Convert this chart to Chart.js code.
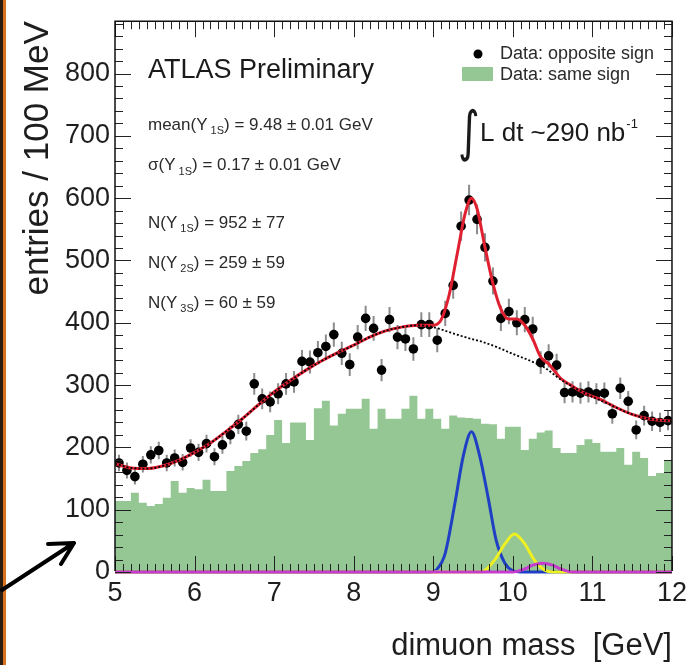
<!DOCTYPE html>
<html>
<head>
<meta charset="utf-8">
<script src="https://cdn.jsdelivr.net/npm/chart.js@4.4.1/dist/chart.umd.min.js"></script>
<style>
  html, body { margin: 0; padding: 0; background: #fff; }
  #wrap { position: relative; width: 692px; height: 665px; }
</style>
</head>
<body>
<div id="wrap"><canvas id="ups-chart" width="692" height="665"></canvas></div>
<script>
// dimuon mass spectrum in the Upsilon region

const massMin = 5;
const massMax = 12;
const binWidth = 0.1;

// entries / 100 MeV, bins from 5.0 to 12.0 GeV
const oppositeSign = [
  175, 163, 153, 173, 188, 195, 175, 183, 176, 199,
  192, 206, 185, 204, 220, 237, 226, 302, 278, 273,
  286, 302, 305, 338, 337, 352, 362, 381, 351, 333,
  377, 407, 391, 324, 405, 377, 374, 358, 397, 397,
  372, 415, 460, 555, 597, 566, 521, 467, 407, 418,
  400, 405, 390, 336, 347, 332, 288, 289, 287, 289,
  286, 287, 254, 295, 274, 228, 251, 242, 240, 243
];
const sameSign = [
  114, 114, 127, 111, 106, 109, 119, 146, 127, 135,
  133, 148, 130, 130, 162, 170, 178, 191, 197, 220,
  244, 207, 240, 240, 212, 263, 275, 235, 254, 262,
  262, 278, 230, 262, 246, 246, 262, 283, 246, 262,
  246, 230, 251, 248, 247, 246, 238, 237, 214, 233,
  233, 196, 214, 224, 227, 199, 191, 191, 204, 213,
  207, 193, 193, 199, 172, 193, 183, 154, 159, 179
];

// fitted curves, sampled off the plot
const fitMass = [5.0, 5.2, 5.4, 5.6, 5.8, 6.0, 6.2, 6.4, 6.6, 6.8, 7.0, 7.2, 7.4, 7.6, 7.8, 8.0, 8.2, 8.4, 8.6, 8.8,
  9.0, 9.1, 9.2, 9.3, 9.4, 9.48, 9.55, 9.65, 9.75, 9.85, 9.95, 10.05, 10.15, 10.25, 10.35, 10.45,
  10.6, 10.7, 10.9, 11.1, 11.3, 11.5, 11.7, 11.9, 12.0];
const fitTotal = [174, 167, 166, 170, 179, 192, 207, 226, 246, 268, 289, 307, 324, 339, 352, 364, 377, 387, 393, 396,
  396, 405, 445, 510, 575, 600, 583, 521, 463, 422, 406, 406, 396, 374, 345, 334,
  311, 302, 287, 277, 264, 253, 246, 243, 242];

const bkgMass = [5.0, 5.2, 5.4, 5.6, 5.8, 6.0, 6.2, 6.4, 6.6, 6.8, 7.0, 7.2, 7.4, 7.6, 7.8, 8.0, 8.2, 8.4, 8.6, 8.8,
  9.0, 9.2, 9.4, 9.6, 9.8, 10.0, 10.2, 10.4, 10.6, 10.8, 11.0, 11.2, 11.4, 11.6, 11.8, 12.0];
const bkgFit = [174, 167, 166, 170, 179, 192, 207, 226, 246, 268, 289, 307, 324, 339, 352, 364, 377, 387, 393, 396,
  393, 385, 377, 370, 361, 350, 340, 328, 309, 294, 281, 270, 258, 249, 244, 242];

const ups1SMass = [5.0, 8.95, 9.05, 9.15, 9.27, 9.38, 9.48, 9.58, 9.69, 9.79, 9.9, 10.0, 10.1, 12.0];
const ups1S = [0, 0, 5, 30, 109, 188, 225, 188, 119, 51, 14, 2, 0, 0];
const ups2SMass = [5.0, 9.6, 9.77, 9.9, 10.02, 10.15, 10.27, 10.4, 10.5, 12.0];
const ups2S = [0, 0, 19, 45, 61, 45, 19, 3, 0, 0];
const ups3SMass = [5.0, 10.0, 10.15, 10.25, 10.37, 10.5, 10.6, 10.75, 12.0];
const ups3S = [0, 0, 5, 11, 14, 11, 5, 0, 0];

const xTicks = [5, 6, 7, 8, 9, 10, 11, 12];
const yTicks = [0, 100, 200, 300, 400, 500, 600, 700, 800];

const FONT = '"Liberation Sans", Arial, Helvetica, sans-serif';

const pts = (xs, ys) => xs.map((x, i) => ({ x, y: ys[i] }));
const binCenters = oppositeSign.map((_, i) => massMin + (i + 0.5) * binWidth);
const histEdges = sameSign.map((v, i) => ({ x: massMin + i * binWidth, y: v }));
histEdges.push({ x: massMax, y: sameSign[sameSign.length - 1] });

// === frame and inward ticks (ROOT style) ===
const frameTicks = {
  id: "frameTicks",
  beforeDatasetsDraw(chart) {
    const { ctx, chartArea: a } = chart;
    ctx.save();
    ctx.strokeStyle = "#111";
    ctx.lineWidth = 1.5;
    ctx.beginPath();
    ctx.moveTo(a.left, a.bottom);
    ctx.lineTo(a.right, a.bottom);
    ctx.stroke();
    ctx.restore();
  },
  afterDatasetsDraw(chart) {
    const { ctx, chartArea: a, scales: { x, y } } = chart;
    ctx.save();
    ctx.strokeStyle = "#222";
    ctx.lineWidth = 1;
    ctx.beginPath();
    for (let i = 0; i <= 70; i++) {
      const px = Math.round(x.getPixelForValue(massMin + i * binWidth)) + 0.5;
      const len = i % 10 === 0 ? 16 : 8;
      ctx.moveTo(px, a.bottom - 1); ctx.lineTo(px, a.bottom - len);
      ctx.moveTo(px, a.top); ctx.lineTo(px, a.top + len);
    }
    for (let v = 0; v <= 880; v += 20) {
      const py = Math.round(y.getPixelForValue(v)) + 0.5;
      const len = v % 100 === 0 ? 16 : 8;
      ctx.moveTo(a.left, py); ctx.lineTo(a.left + len, py);
      ctx.moveTo(a.right, py); ctx.lineTo(a.right - len, py);
    }
    ctx.stroke();
    ctx.lineWidth = 1.5;
    ctx.strokeStyle = "#111";
    ctx.beginPath();
    ctx.moveTo(a.left, a.bottom - 1);
    ctx.lineTo(a.left, a.top);
    ctx.lineTo(a.right, a.top);
    ctx.lineTo(a.right, a.bottom - 1);
    ctx.stroke();
    ctx.restore();
  }
};

// === sqrt(N) error bars under the data points ===
const errorBars = {
  id: "errorBars",
  beforeDatasetDraw(chart, args) {
    if (args.index !== 1) return;
    const { ctx, scales: { x, y } } = chart;
    ctx.save();
    ctx.strokeStyle = "#8c8c8c";
    ctx.lineWidth = 2;
    ctx.beginPath();
    oppositeSign.forEach((n, i) => {
      const px = x.getPixelForValue(binCenters[i]);
      const err = Math.sqrt(n);
      ctx.moveTo(px, y.getPixelForValue(n - err));
      ctx.lineTo(px, y.getPixelForValue(n + err));
    });
    ctx.stroke();
    ctx.restore();
  }
};

function richText(ctx, x, y, parts) {
  parts.forEach(([t, size, dy]) => {
    ctx.font = `${size}px ${FONT}`;
    ctx.fillText(t, x, y + dy);
    x += ctx.measureText(t).width;
  });
  return x;
}

// === labels, legend and slide decorations ===
const annotations = {
  id: "annotations",
  afterDraw(chart) {
    const { ctx } = chart;
    ctx.save();
    ctx.textBaseline = "alphabetic";
    ctx.textAlign = "left";
    ctx.fillStyle = "#1a1a1a";
    ctx.font = `27px ${FONT}`;
    ctx.fillText("ATLAS Preliminary", 148, 78);

    ctx.fillStyle = "#2a2a2a";
    richText(ctx, 148, 130, [["mean(Υ", 17, 0], [" 1S", 11, 4], [") = 9.48 ± 0.01 GeV", 17, 0]]);
    richText(ctx, 148, 170, [["σ(Υ", 17, 0], [" 1S", 11, 5], [") = 0.17 ± 0.01 GeV", 17, 0]]);
    richText(ctx, 148, 228, [["N(Υ", 17, 0], [" 1S", 11, 4], [") = 952 ± 77", 17, 0]]);
    richText(ctx, 148, 268, [["N(Υ", 17, 0], [" 2S", 11, 4], [") = 259 ± 59", 17, 0]]);
    richText(ctx, 148, 308, [["N(Υ", 17, 0], [" 3S", 11, 4], [") = 60 ± 59", 17, 0]]);

    // legend
    ctx.fillStyle = "#000";
    ctx.beginPath();
    ctx.arc(478, 54, 4.5, 0, Math.PI * 2);
    ctx.fill();
    ctx.fillStyle = "#95c795";
    ctx.fillRect(462, 67, 31, 14);
    ctx.fillStyle = "#2a2a2a";
    ctx.font = `18px ${FONT}`;
    ctx.fillText("Data: opposite sign", 500, 59);
    ctx.fillText("Data: same sign", 500, 80);

    // luminosity
    ctx.fillStyle = "#1a1a1a";
    ctx.save();
    ctx.translate(458, 150);
    ctx.scale(0.8, 1.05);
    ctx.font = `52px "DejaVu Sans", sans-serif`;
    ctx.fillText("∫", 0, 0);
    ctx.restore();
    const endX = richText(ctx, 480, 141, [["L dt ~290 nb", 26, 0]]);
    ctx.font = `13px ${FONT}`;
    ctx.fillText("-1", endX + 1, 128);

    // slide edge and arrow
    ctx.fillStyle = "#2b1d10";
    ctx.fillRect(0, 0, 3, 665);
    ctx.fillStyle = "#d9731f";
    ctx.fillRect(3, 0, 3, 665);
    ctx.strokeStyle = "#000";
    ctx.lineWidth = 4;
    ctx.lineCap = "round";
    ctx.beginPath();
    ctx.moveTo(2, 590);
    ctx.lineTo(74, 543);
    ctx.moveTo(74, 543);
    ctx.lineTo(48, 544);
    ctx.moveTo(74, 543);
    ctx.lineTo(61, 564);
    ctx.stroke();
    ctx.restore();
  }
};

Chart.defaults.font.family = FONT;

new Chart(document.getElementById("ups-chart"), {
  type: "line",
  data: {
    datasets: [
      {
        label: "Data: same sign",
        data: histEdges,
        stepped: true,
        fill: "origin",
        backgroundColor: "#95c795",
        borderWidth: 0,
        pointRadius: 0,
        order: 7
      },
      {
        label: "Data: opposite sign",
        data: pts(binCenters, oppositeSign),
        showLine: false,
        pointRadius: 4.8,
        pointBackgroundColor: "#000",
        pointBorderWidth: 0,
        order: 6
      },
      {
        label: "total fit",
        data: pts(fitMass, fitTotal),
        borderColor: "#e02030",
        borderWidth: 3,
        cubicInterpolationMode: "monotone",
        pointRadius: 0,
        order: 5
      },
      {
        label: "background",
        data: pts(bkgMass, bkgFit),
        borderColor: "#000",
        borderWidth: 1.8,
        borderDash: [2, 2],
        cubicInterpolationMode: "monotone",
        pointRadius: 0,
        order: 4
      },
      {
        label: "Y(1S)",
        data: pts(ups1SMass, ups1S),
        borderColor: "#1f3fc4",
        borderWidth: 3,
        cubicInterpolationMode: "monotone",
        pointRadius: 0,
        clip: 4,
        order: 3
      },
      {
        label: "Y(2S)",
        data: pts(ups2SMass, ups2S),
        borderColor: "#eef022",
        borderWidth: 3,
        cubicInterpolationMode: "monotone",
        pointRadius: 0,
        clip: 4,
        order: 2
      },
      {
        label: "Y(3S)",
        data: pts(ups3SMass, ups3S),
        borderColor: "#c63ccf",
        borderWidth: 3,
        cubicInterpolationMode: "monotone",
        pointRadius: 0,
        clip: 4,
        order: 1
      }
    ]
  },
  options: {
    responsive: false,
    animation: false,
    events: [],
    devicePixelRatio: 1,
    layout: { padding: { left: 0, top: 14, right: 17, bottom: 0 } },
    plugins: {
      legend: { display: false },
      tooltip: { enabled: false }
    },
    scales: {
      x: {
        type: "linear",
        min: massMin,
        max: massMax,
        afterBuildTicks: s => { s.ticks = xTicks.map(v => ({ value: v })); },
        afterFit: s => { s.height = 93; },
        grid: { display: false, drawTicks: false },
        border: { display: false },
        ticks: { font: { size: 27 }, color: "#1e1e1e", padding: 5, maxRotation: 0 },
        title: {
          display: true,
          text: "dimuon mass  [GeV]",
          align: "end",
          font: { size: 31 },
          color: "#1e1e1e",
          padding: { top: 0, bottom: 0 }
        }
      },
      y: {
        type: "linear",
        min: 0,
        max: 884,
        afterBuildTicks: s => { s.ticks = yTicks.map(v => ({ value: v })); },
        afterFit: s => { s.width = 115; },
        grid: { display: false, drawTicks: false },
        border: { display: false },
        ticks: { font: { size: 27 }, color: "#1e1e1e", padding: 5 },
        title: {
          display: true,
          text: "entries / 100 MeV",
          align: "end",
          font: { size: 35 },
          color: "#1e1e1e",
          padding: { top: 17, bottom: 0 }
        }
      }
    }
  },
  plugins: [frameTicks, errorBars, annotations]
});
</script>
</body>
</html>
